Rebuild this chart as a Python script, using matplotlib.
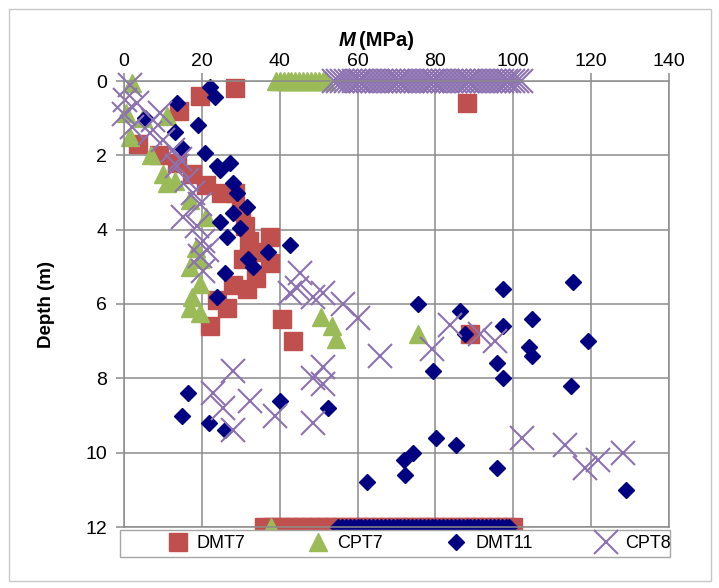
import matplotlib
matplotlib.use("Agg")
import matplotlib.pyplot as plt
from matplotlib.patches import Rectangle

plt.rcParams['font.family'] = ['Liberation Sans', 'DejaVu Sans']

# M (MPa) and depth (m)
dmt7_m = [28.5, 19.5, 14, 88, 3.5, 9, 13.5, 17.5, 21, 25, 28.5, 30, 31, 32, 37.5,
          30.5, 37.5, 34, 31.5, 28, 26.5, 22, 40.5, 43.5, 89, 24, 34]
dmt7_d = [0.2, 0.4, 0.8, 0.6, 1.7, 2.0, 2.2, 2.5, 2.8, 3.0, 3.0, 3.5, 3.9, 4.3, 4.2,
          4.8, 4.9, 5.3, 5.6, 5.5, 6.1, 6.6, 6.4, 7.0, 6.8, 5.9, 4.6]

cpt7_m = [2, 0.5, 1.5, 5, 11, 7, 10, 13, 11, 17, 21, 18.5, 19.5, 17, 19.5, 17.5,
          17, 19.5, 50.5, 53.5, 54.5, 75.5]
cpt7_d = [0.05, 0.85, 1.5, 1.0, 0.95, 2.0, 2.5, 2.7, 2.75, 3.2, 3.65, 4.5, 4.8, 5.0,
          5.45, 5.8, 6.1, 6.25, 6.35, 6.6, 6.95, 6.8]

dmt11_m = [22, 23.4, 13.6, 5.4, 19, 13.1, 14.9, 20.8, 27.2, 24, 24.7, 28, 29, 31.6,
           28, 24.7, 29.8, 26.4, 42.6, 37, 31.8, 33.1, 26, 23.9, 75.5, 97.4, 115.3,
           86.3, 104.8, 119.2, 97.4, 87.6, 104, 104.8, 95.8, 79.4, 97.4, 114.8, 80.1,
           85.3, 74.2, 71.9, 72.2, 95.8, 128.9, 62.4, 16.4, 14.9, 21.8, 25.9, 40, 52.4]
dmt11_d = [0.15, 0.43, 0.6, 1.0, 1.18, 1.37, 1.8, 1.95, 2.2, 2.3, 2.4, 2.75, 3.0, 3.4,
           3.55, 3.8, 3.95, 4.2, 4.4, 4.6, 4.8, 5.0, 5.17, 5.8, 6.0, 5.6, 5.4,
           6.2, 6.4, 7.0, 6.6, 6.8, 7.15, 7.4, 7.6, 7.8, 8.0, 8.2, 9.6,
           9.8, 10.0, 10.2, 10.6, 10.4, 11.0, 10.8, 8.4, 9.0, 9.2, 9.4, 8.6, 8.8]

cpt8_m = [1.5, 0.3, 3.3, 0, 9.2, 7.5, 2, 6.7, 10, 12.6, 14.4, 13.6, 16.2, 17.7, 19.5,
          15.2, 18.7, 20.3, 19.5, 21.3, 20.3, 45.2, 42.6, 44.4, 48.5, 51.1, 56.3, 60,
          65.8, 51.1, 48.5, 51.1, 48.5, 28, 22.9, 32.4, 25.4, 38.8, 28, 83.7, 79.1,
          91.4, 95.3, 102.2, 113.3, 118.4, 121.8, 128.2]
cpt8_d = [0.1, 0.5, 0.6, 0.9, 0.87, 1.05, 1.25, 1.4, 1.6, 1.86, 2.1, 2.3, 2.66, 3.0, 3.3,
          3.66, 3.9, 4.3, 4.7, 4.55, 5.1, 5.17, 5.7, 5.57, 5.8, 5.7, 6.0, 6.38,
          7.4, 7.7, 8.0, 8.15, 9.2, 7.8, 8.4, 8.6, 8.8, 9.0, 9.4, 6.56, 7.2,
          6.8, 7.0, 9.6, 9.8, 10.4, 10.2, 10.0]

# stray points lying on the 0 m and 12 m edges
cpt7_top_m = [39, 40, 41, 42, 43, 44, 45, 46, 47, 48, 49, 50, 51, 52]
cpt8_top_m = [54, 55, 56, 57, 58, 59, 60, 61, 62, 63, 64, 65, 66, 67, 68, 69, 70, 71,
              72, 73, 74, 75, 76, 77, 78, 79, 80, 81, 82, 83, 84, 85, 86, 87, 88, 89,
              90, 91, 92, 93, 94, 95, 96, 97, 98, 99, 100, 101, 102]
dmt7_bottom_m = [36, 38, 40, 42, 44, 46, 48, 50, 52, 54, 56, 58, 60, 62, 64, 66, 68,
                 70, 72, 74, 76, 78, 80, 82, 84, 86, 88, 90, 92, 94, 96, 98, 100]
cpt7_bottom_m = [37.7]
dmt11_bottom_m = [55, 56, 57, 58, 59, 60, 61, 62, 63, 64, 65, 66, 67, 68, 69, 70, 71,
                  72, 73, 74, 75, 76, 77, 78, 79, 80, 81, 82, 83, 84, 85, 86, 87, 88,
                  89, 90, 91, 92, 93, 94, 95, 96, 97, 98, 99]

fig = plt.figure(figsize=(7.19, 5.88), dpi=100)
ax = fig.add_axes([124 / 719, 1 - 527 / 588, 545 / 719, 446 / 588])

red = '#C0504D'
green = '#9BBB59'
navy = '#000080'
purple = '#8C72B0'

h1, = ax.plot(dmt7_m + dmt7_bottom_m, dmt7_d + [12] * len(dmt7_bottom_m),
              's', ms=13.5, color=red, mec=red, clip_on=False, label='DMT7')
h2, = ax.plot(cpt7_m + cpt7_top_m + cpt7_bottom_m,
              cpt7_d + [0] * len(cpt7_top_m) + [12] * len(cpt7_bottom_m),
              '^', ms=13, color=green, mec=green, clip_on=False, label='CPT7')
h3, = ax.plot(dmt11_m + dmt11_bottom_m, dmt11_d + [12] * len(dmt11_bottom_m),
              'D', ms=8.3, color=navy, mec=navy, clip_on=False, label='DMT11')
h4, = ax.plot(cpt8_m + cpt8_top_m, cpt8_d + [0] * len(cpt8_top_m),
              'x', ms=17, mew=1.5, color=purple, clip_on=False, label='CPT8')

ax.set_xlim(0, 140)
ax.set_ylim(12, 0)
ax.set_xticks(range(0, 141, 20))
ax.set_yticks(range(0, 13, 2))
ax.xaxis.tick_top()
ax.grid(True, color='#8c8c8c', lw=1.1)
ax.set_axisbelow(True)
for s in ax.spines.values():
    s.set_color('#8c8c8c')
    s.set_linewidth(1.1)
ax.tick_params(axis='both', colors='#8c8c8c', labelcolor='black', labelsize=14,
               length=6, width=1.1)
ax.tick_params(axis='x', pad=2)
ax.tick_params(axis='y', pad=6)

ax.set_ylabel('Depth (m)', fontsize=13.5, fontweight='bold', labelpad=22)
fig.text(339 / 719, 1 - 41 / 588, 'M', fontsize=14.5, fontweight='bold',
         style='italic', va='center', ha='left')
fig.text(359 / 719, 1 - 41 / 588, '(MPa)', fontsize=14.5, fontweight='bold',
         va='center', ha='left')

# legend box drawn separately so the entries can sit where they do in the original
fig.patches.append(Rectangle((120 / 719, 1 - 557 / 588), 550 / 719, 27 / 588,
                             transform=fig.transFigure, fc='white',
                             ec='#a6a6a6', lw=1, zorder=8))
leg = fig.legend([h1, h2, h3, h4], ['DMT7', 'CPT7', 'DMT11', 'CPT8'],
                 loc='center left', bbox_to_anchor=(164 / 719, 1 - 543.5 / 588),
                 ncol=4, fontsize=13, frameon=False, borderpad=0, borderaxespad=0,
                 handlelength=1.5, handletextpad=0.3, columnspacing=3.3,
                 markerscale=1.0)
leg.set_zorder(10)

fig.patches.append(Rectangle((9 / 719, 1 - 581 / 588), 702 / 719, 572 / 588,
                             transform=fig.transFigure, fill=False,
                             ec='#c8c8c8', lw=1))

fig.savefig('out.png', dpi=100)
